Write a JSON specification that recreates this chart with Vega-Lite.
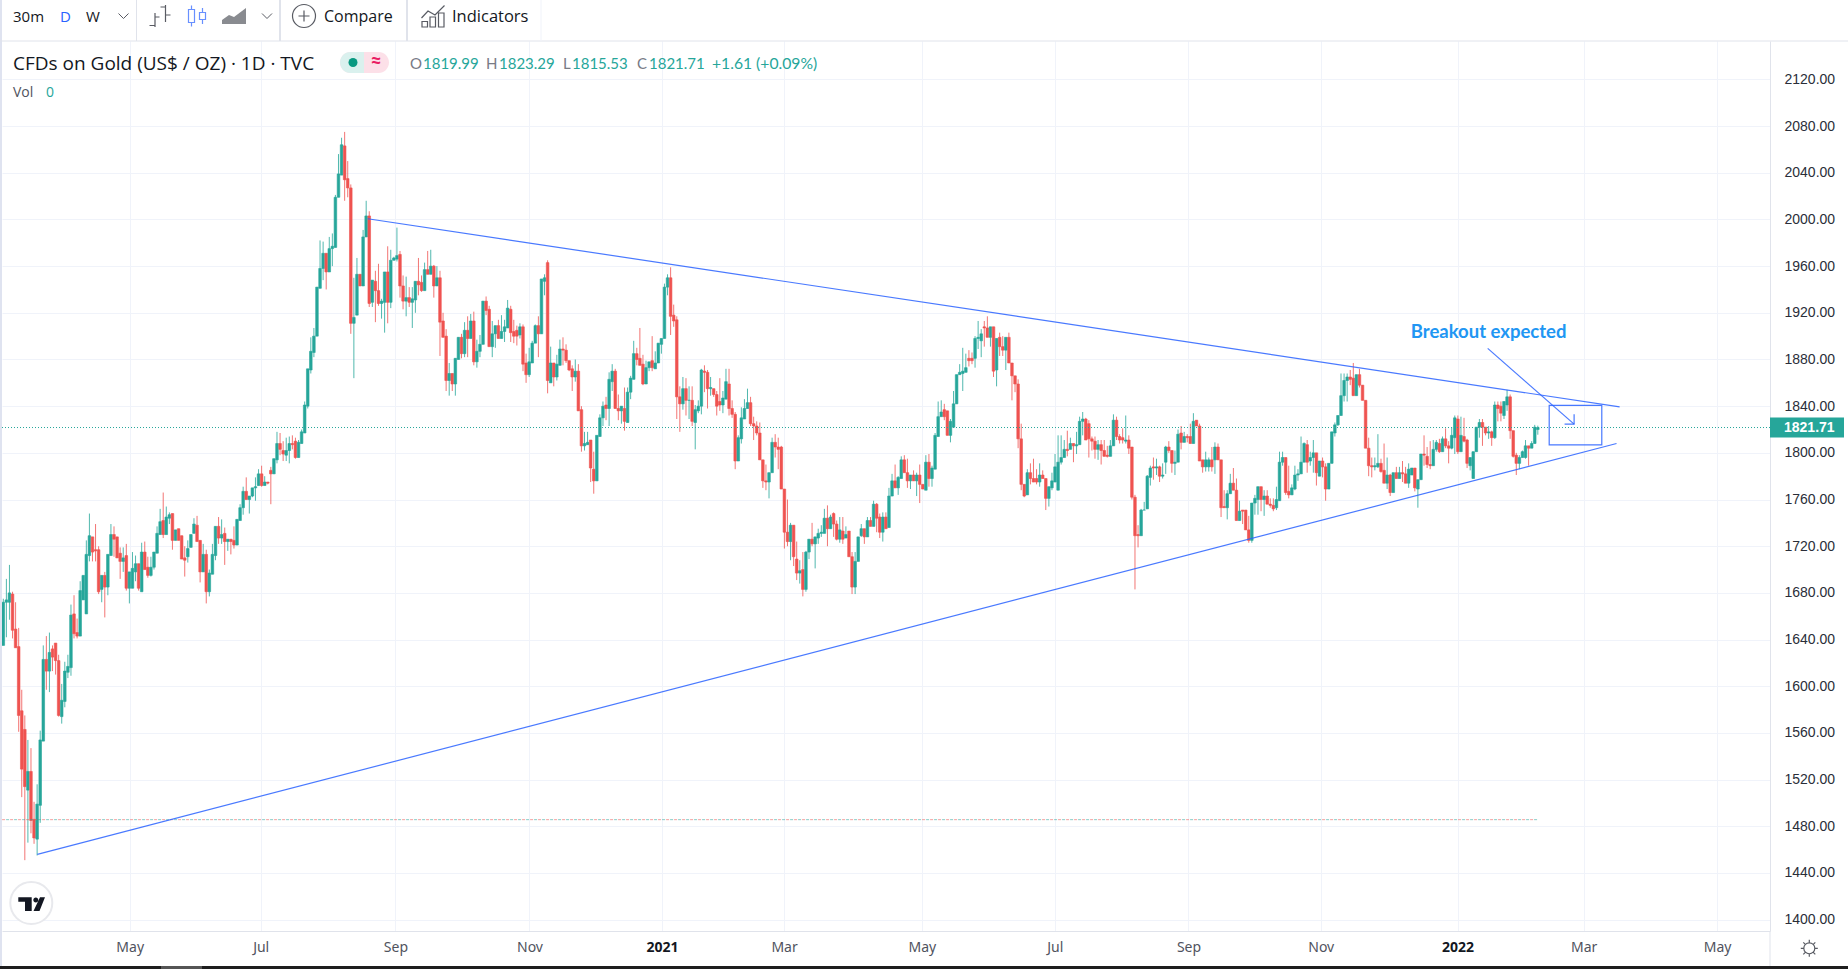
{"$schema":"https://vega.github.io/schema/vega-lite/v6.json","width":1768,"height":890,"padding":{"left":2,"top":41,"right":78,"bottom":38},"autosize":{"type":"none"},"background":"#ffffff","config":{"view":{"stroke":null}},
"datasets":{"bars":[
{"i":0,"o":1635,"h":1675,"l":1635,"c":1672},{"i":1,"o":1672,"h":1692,"l":1642,"c":1674},{"i":2,"o":1672,"h":1704,"l":1657,"c":1680},{"i":3,"o":1679,"h":1681,"l":1641,"c":1648},{"i":4,"o":1649,"h":1672,"l":1633,"c":1633},{"i":5,"o":1634,"h":1650,"l":1561,"c":1575},{"i":6,"o":1579,"h":1597,"l":1505,"c":1529},{"i":7,"o":1563,"h":1575,"l":1451,"c":1514},{"i":8,"o":1511,"h":1554,"l":1466,"c":1527},{"i":9,"o":1527,"h":1547,"l":1474,"c":1485},
{"i":10,"o":1486,"h":1501,"l":1465,"c":1470},{"i":11,"o":1469,"h":1516,"l":1455,"c":1499},{"i":12,"o":1498,"h":1562,"l":1483,"c":1554},{"i":13,"o":1553,"h":1635,"l":1553,"c":1623},{"i":14,"o":1623,"h":1643,"l":1597,"c":1613},{"i":15,"o":1613,"h":1646,"l":1595,"c":1629},{"i":16,"o":1632,"h":1635,"l":1613,"c":1625},{"i":17,"o":1637,"h":1637,"l":1610,"c":1622},{"i":18,"o":1622,"h":1627,"l":1574,"c":1575},{"i":19,"o":1574,"h":1602,"l":1568,"c":1588},
{"i":20,"o":1587,"h":1621,"l":1582,"c":1613},{"i":21,"o":1612,"h":1627,"l":1607,"c":1617},{"i":22,"o":1616,"h":1670,"l":1609,"c":1661},{"i":23,"o":1662,"h":1678,"l":1641,"c":1645},{"i":24,"o":1646,"h":1658,"l":1641,"c":1643},{"i":25,"o":1643,"h":1690,"l":1643,"c":1682},{"i":26,"o":1674,"h":1695,"l":1674,"c":1695},{"i":27,"o":1662,"h":1725,"l":1662,"c":1713},{"i":28,"o":1712,"h":1748,"l":1707,"c":1729},{"i":29,"o":1728,"h":1728,"l":1707,"c":1715},
{"i":30,"o":1717,"h":1739,"l":1707,"c":1716},{"i":31,"o":1717,"h":1720,"l":1679,"c":1681},{"i":32,"o":1683,"h":1695,"l":1672,"c":1695},{"i":33,"o":1695,"h":1698,"l":1659,"c":1685},{"i":34,"o":1685,"h":1713,"l":1678,"c":1713},{"i":35,"o":1712,"h":1739,"l":1712,"c":1730},{"i":36,"o":1730,"h":1737,"l":1711,"c":1726},{"i":37,"o":1728,"h":1728,"l":1710,"c":1710},{"i":38,"o":1714,"h":1719,"l":1692,"c":1707},{"i":39,"o":1707,"h":1719,"l":1698,"c":1710},
{"i":40,"o":1712,"h":1722,"l":1682,"c":1684},{"i":41,"o":1684,"h":1698,"l":1671,"c":1698},{"i":42,"o":1684,"h":1715,"l":1684,"c":1701},{"i":43,"o":1698,"h":1712,"l":1690,"c":1705},{"i":44,"o":1705,"h":1705,"l":1682,"c":1684},{"i":45,"o":1681,"h":1723,"l":1681,"c":1715},{"i":46,"o":1715,"h":1724,"l":1700,"c":1700},{"i":47,"o":1702,"h":1711,"l":1693,"c":1695},{"i":48,"o":1695,"h":1711,"l":1694,"c":1702},{"i":49,"o":1702,"h":1715,"l":1700,"c":1715},
{"i":50,"o":1714,"h":1737,"l":1714,"c":1731},{"i":51,"o":1730,"h":1752,"l":1730,"c":1741},{"i":52,"o":1742,"h":1766,"l":1727,"c":1730},{"i":53,"o":1730,"h":1754,"l":1730,"c":1745},{"i":54,"o":1744,"h":1749,"l":1739,"c":1747},{"i":55,"o":1748,"h":1748,"l":1717,"c":1725},{"i":56,"o":1725,"h":1734,"l":1725,"c":1734},{"i":57,"o":1735,"h":1735,"l":1725,"c":1725},{"i":58,"o":1729,"h":1729,"l":1709,"c":1709},{"i":59,"o":1710,"h":1720,"l":1694,"c":1708},
{"i":60,"o":1711,"h":1725,"l":1706,"c":1718},{"i":61,"o":1719,"h":1730,"l":1719,"c":1730},{"i":62,"o":1731,"h":1744,"l":1731,"c":1739},{"i":63,"o":1738,"h":1746,"l":1724,"c":1724},{"i":64,"o":1725,"h":1725,"l":1689,"c":1698},{"i":65,"o":1698,"h":1722,"l":1698,"c":1713},{"i":66,"o":1713,"h":1717,"l":1671,"c":1681},{"i":67,"o":1681,"h":1700,"l":1677,"c":1697},{"i":68,"o":1696,"h":1722,"l":1696,"c":1713},{"i":69,"o":1712,"h":1737,"l":1708,"c":1737},
{"i":70,"o":1737,"h":1745,"l":1722,"c":1727},{"i":71,"o":1727,"h":1743,"l":1722,"c":1730},{"i":72,"o":1731,"h":1736,"l":1704,"c":1724},{"i":73,"o":1724,"h":1726,"l":1716,"c":1726},{"i":74,"o":1726,"h":1726,"l":1713,"c":1724},{"i":75,"o":1725,"h":1737,"l":1718,"c":1721},{"i":76,"o":1721,"h":1743,"l":1721,"c":1743},{"i":77,"o":1742,"h":1756,"l":1742,"c":1753},{"i":78,"o":1753,"h":1771,"l":1747,"c":1767},{"i":79,"o":1767,"h":1779,"l":1760,"c":1760},
{"i":80,"o":1760,"h":1763,"l":1748,"c":1763},{"i":81,"o":1763,"h":1770,"l":1762,"c":1770},{"i":82,"o":1770,"h":1779,"l":1759,"c":1771},{"i":83,"o":1772,"h":1786,"l":1772,"c":1782},{"i":84,"o":1782,"h":1789,"l":1771,"c":1772},{"i":85,"o":1772,"h":1780,"l":1772,"c":1775},{"i":86,"o":1775,"h":1775,"l":1773,"c":1774},{"i":87,"o":1785,"h":1788,"l":1756,"c":1782},{"i":88,"o":1782,"h":1795,"l":1782,"c":1795},{"i":89,"o":1794,"h":1818,"l":1791,"c":1808},
{"i":90,"o":1808,"h":1817,"l":1798,"c":1803},{"i":91,"o":1802,"h":1810,"l":1793,"c":1799},{"i":92,"o":1798,"h":1813,"l":1793,"c":1802},{"i":93,"o":1802,"h":1814,"l":1791,"c":1808},{"i":94,"o":1808,"h":1815,"l":1803,"c":1807},{"i":95,"o":1810,"h":1813,"l":1795,"c":1796},{"i":96,"o":1796,"h":1811,"l":1796,"c":1809},{"i":97,"o":1808,"h":1820,"l":1808,"c":1818},{"i":98,"o":1817,"h":1844,"l":1817,"c":1841},{"i":99,"o":1840,"h":1872,"l":1838,"c":1872},
{"i":100,"o":1871,"h":1899,"l":1868,"c":1887},{"i":101,"o":1886,"h":1907,"l":1882,"c":1900},{"i":102,"o":1900,"h":1942,"l":1900,"c":1942},{"i":103,"o":1941,"h":1982,"l":1941,"c":1958},{"i":104,"o":1958,"h":1981,"l":1948,"c":1971},{"i":105,"o":1971,"h":1971,"l":1940,"c":1955},{"i":106,"o":1955,"h":1985,"l":1955,"c":1975},{"i":107,"o":1975,"h":1988,"l":1960,"c":1977},{"i":108,"o":1976,"h":2021,"l":1976,"c":2019},{"i":109,"o":2019,"h":2056,"l":2019,"c":2039},
{"i":110,"o":2038,"h":2070,"l":2038,"c":2064},{"i":111,"o":2063,"h":2075,"l":2016,"c":2034},{"i":112,"o":2035,"h":2050,"l":2019,"c":2027},{"i":113,"o":2027,"h":2030,"l":1902,"c":1911},{"i":114,"o":1911,"h":1950,"l":1864,"c":1916},{"i":115,"o":1918,"h":1967,"l":1918,"c":1953},{"i":116,"o":1953,"h":1953,"l":1943,"c":1943},{"i":117,"o":1943,"h":1991,"l":1943,"c":1985},{"i":118,"o":1985,"h":2016,"l":1985,"c":2003},{"i":119,"o":2003,"h":2007,"l":1925,"c":1928},
{"i":120,"o":1929,"h":1948,"l":1925,"c":1948},{"i":121,"o":1947,"h":1956,"l":1912,"c":1939},{"i":122,"o":1939,"h":1962,"l":1926,"c":1928},{"i":123,"o":1928,"h":1932,"l":1915,"c":1930},{"i":124,"o":1929,"h":1955,"l":1903,"c":1955},{"i":125,"o":1955,"h":1977,"l":1911,"c":1929},{"i":126,"o":1929,"h":1974,"l":1924,"c":1965},{"i":127,"o":1965,"h":1968,"l":1965,"c":1967},{"i":128,"o":1966,"h":1993,"l":1964,"c":1969},{"i":129,"o":1970,"h":1973,"l":1933,"c":1943},
{"i":130,"o":1943,"h":1952,"l":1923,"c":1930},{"i":131,"o":1930,"h":1951,"l":1917,"c":1933},{"i":132,"o":1933,"h":1942,"l":1925,"c":1929},{"i":133,"o":1929,"h":1942,"l":1907,"c":1932},{"i":134,"o":1931,"h":1947,"l":1920,"c":1947},{"i":135,"o":1947,"h":1967,"l":1935,"c":1944},{"i":136,"o":1946,"h":1952,"l":1938,"c":1939},{"i":137,"o":1939,"h":1963,"l":1939,"c":1957},{"i":138,"o":1957,"h":1973,"l":1953,"c":1953},{"i":139,"o":1953,"h":1974,"l":1953,"c":1960},
{"i":140,"o":1960,"h":1961,"l":1933,"c":1943},{"i":141,"o":1943,"h":1960,"l":1943,"c":1950},{"i":142,"o":1950,"h":1956,"l":1883,"c":1912},{"i":143,"o":1913,"h":1920,"l":1899,"c":1899},{"i":144,"o":1900,"h":1906,"l":1853,"c":1862},{"i":145,"o":1862,"h":1877,"l":1849,"c":1868},{"i":146,"o":1868,"h":1868,"l":1853,"c":1859},{"i":147,"o":1859,"h":1881,"l":1849,"c":1881},{"i":148,"o":1880,"h":1899,"l":1880,"c":1899},{"i":149,"o":1899,"h":1902,"l":1881,"c":1885},
{"i":150,"o":1885,"h":1912,"l":1882,"c":1905},{"i":151,"o":1905,"h":1917,"l":1882,"c":1898},{"i":152,"o":1898,"h":1919,"l":1898,"c":1913},{"i":153,"o":1913,"h":1921,"l":1875,"c":1878},{"i":154,"o":1878,"h":1897,"l":1873,"c":1887},{"i":155,"o":1887,"h":1901,"l":1882,"c":1893},{"i":156,"o":1893,"h":1930,"l":1893,"c":1930},{"i":157,"o":1930,"h":1934,"l":1918,"c":1922},{"i":158,"o":1923,"h":1926,"l":1891,"c":1891},{"i":159,"o":1891,"h":1913,"l":1882,"c":1902},
{"i":160,"o":1902,"h":1909,"l":1890,"c":1909},{"i":161,"o":1909,"h":1914,"l":1898,"c":1898},{"i":162,"o":1898,"h":1918,"l":1898,"c":1904},{"i":163,"o":1904,"h":1914,"l":1895,"c":1908},{"i":164,"o":1907,"h":1931,"l":1907,"c":1924},{"i":165,"o":1923,"h":1926,"l":1895,"c":1903},{"i":166,"o":1904,"h":1914,"l":1894,"c":1900},{"i":167,"o":1905,"h":1909,"l":1892,"c":1900},{"i":168,"o":1901,"h":1911,"l":1898,"c":1908},{"i":169,"o":1908,"h":1910,"l":1870,"c":1876},
{"i":170,"o":1877,"h":1885,"l":1860,"c":1867},{"i":171,"o":1867,"h":1890,"l":1865,"c":1878},{"i":172,"o":1877,"h":1896,"l":1877,"c":1894},{"i":173,"o":1894,"h":1910,"l":1894,"c":1909},{"i":174,"o":1909,"h":1917,"l":1882,"c":1902},{"i":175,"o":1902,"h":1949,"l":1902,"c":1949},{"i":176,"o":1947,"h":1953,"l":1935,"c":1950},{"i":177,"o":1963,"h":1965,"l":1851,"c":1862},{"i":178,"o":1860,"h":1891,"l":1860,"c":1877},{"i":179,"o":1877,"h":1877,"l":1857,"c":1865},
{"i":180,"o":1865,"h":1884,"l":1862,"c":1876},{"i":181,"o":1875,"h":1897,"l":1875,"c":1889},{"i":182,"o":1889,"h":1899,"l":1875,"c":1888},{"i":183,"o":1888,"h":1893,"l":1877,"c":1879},{"i":184,"o":1879,"h":1879,"l":1870,"c":1871},{"i":185,"o":1872,"h":1875,"l":1853,"c":1865},{"i":186,"o":1865,"h":1880,"l":1861,"c":1870},{"i":187,"o":1870,"h":1876,"l":1836,"c":1836},{"i":188,"o":1837,"h":1840,"l":1801,"c":1806},{"i":189,"o":1806,"h":1818,"l":1802,"c":1808},
{"i":190,"o":1807,"h":1818,"l":1807,"c":1809},{"i":191,"o":1811,"h":1811,"l":1775,"c":1787},{"i":192,"o":1786,"h":1801,"l":1765,"c":1776},{"i":193,"o":1776,"h":1815,"l":1776,"c":1815},{"i":194,"o":1814,"h":1833,"l":1814,"c":1830},{"i":195,"o":1830,"h":1844,"l":1823,"c":1840},{"i":196,"o":1841,"h":1848,"l":1828,"c":1838},{"i":197,"o":1838,"h":1869,"l":1823,"c":1863},{"i":198,"o":1861,"h":1876,"l":1853,"c":1870},{"i":199,"o":1870,"h":1872,"l":1838,"c":1838},
{"i":200,"o":1838,"h":1850,"l":1828,"c":1836},{"i":201,"o":1836,"h":1840,"l":1825,"c":1840},{"i":202,"o":1838,"h":1856,"l":1819,"c":1827},{"i":203,"o":1826,"h":1856,"l":1826,"c":1852},{"i":204,"o":1852,"h":1866,"l":1846,"c":1864},{"i":205,"o":1863,"h":1896,"l":1863,"c":1885},{"i":206,"o":1885,"h":1890,"l":1875,"c":1880},{"i":207,"o":1881,"h":1907,"l":1875,"c":1875},{"i":208,"o":1876,"h":1884,"l":1858,"c":1859},{"i":209,"o":1859,"h":1879,"l":1859,"c":1873},
{"i":210,"o":1873,"h":1878,"l":1870,"c":1878},{"i":211,"o":1879,"h":1900,"l":1870,"c":1873},{"i":212,"o":1872,"h":1887,"l":1872,"c":1877},{"i":213,"o":1877,"h":1894,"l":1877,"c":1894},{"i":214,"o":1893,"h":1898,"l":1885,"c":1898},{"i":215,"o":1898,"h":1945,"l":1898,"c":1942},{"i":216,"o":1942,"h":1953,"l":1935,"c":1950},{"i":217,"o":1950,"h":1959,"l":1901,"c":1917},{"i":218,"o":1918,"h":1927,"l":1908,"c":1913},{"i":219,"o":1914,"h":1917,"l":1829,"c":1848},
{"i":220,"o":1848,"h":1857,"l":1818,"c":1842},{"i":221,"o":1842,"h":1865,"l":1837,"c":1855},{"i":222,"o":1855,"h":1864,"l":1832,"c":1845},{"i":223,"o":1845,"h":1857,"l":1829,"c":1845},{"i":224,"o":1845,"h":1857,"l":1823,"c":1827},{"i":225,"o":1826,"h":1841,"l":1803,"c":1837},{"i":226,"o":1836,"h":1845,"l":1834,"c":1840},{"i":227,"o":1840,"h":1872,"l":1833,"c":1871},{"i":228,"o":1870,"h":1875,"l":1852,"c":1869},{"i":229,"o":1869,"h":1871,"l":1838,"c":1855},
{"i":230,"o":1855,"h":1865,"l":1849,"c":1856},{"i":231,"o":1855,"h":1855,"l":1848,"c":1850},{"i":232,"o":1850,"h":1853,"l":1832,"c":1840},{"i":233,"o":1844,"h":1864,"l":1836,"c":1841},{"i":234,"o":1841,"h":1853,"l":1834,"c":1847},{"i":235,"o":1846,"h":1872,"l":1846,"c":1861},{"i":236,"o":1859,"h":1872,"l":1832,"c":1838},{"i":237,"o":1838,"h":1845,"l":1830,"c":1833},{"i":238,"o":1833,"h":1835,"l":1786,"c":1793},{"i":239,"o":1793,"h":1815,"l":1793,"c":1813},
{"i":240,"o":1812,"h":1839,"l":1808,"c":1830},{"i":241,"o":1829,"h":1846,"l":1829,"c":1838},{"i":242,"o":1838,"h":1855,"l":1838,"c":1843},{"i":243,"o":1843,"h":1848,"l":1823,"c":1825},{"i":244,"o":1825,"h":1831,"l":1811,"c":1823},{"i":245,"o":1823,"h":1827,"l":1815,"c":1817},{"i":246,"o":1817,"h":1826,"l":1794,"c":1794},{"i":247,"o":1794,"h":1794,"l":1770,"c":1776},{"i":248,"o":1776,"h":1790,"l":1768,"c":1775},{"i":249,"o":1775,"h":1783,"l":1761,"c":1783},
{"i":250,"o":1783,"h":1813,"l":1783,"c":1809},{"i":251,"o":1809,"h":1816,"l":1796,"c":1805},{"i":252,"o":1805,"h":1813,"l":1786,"c":1803},{"i":253,"o":1805,"h":1806,"l":1769,"c":1769},{"i":254,"o":1769,"h":1769,"l":1718,"c":1732},{"i":255,"o":1732,"h":1760,"l":1720,"c":1724},{"i":256,"o":1724,"h":1740,"l":1708,"c":1738},{"i":257,"o":1738,"h":1738,"l":1703,"c":1711},{"i":258,"o":1709,"h":1724,"l":1691,"c":1697},{"i":259,"o":1697,"h":1708,"l":1688,"c":1699},
{"i":260,"o":1700,"h":1715,"l":1677,"c":1683},{"i":261,"o":1683,"h":1716,"l":1681,"c":1715},{"i":262,"o":1715,"h":1726,"l":1709,"c":1726},{"i":263,"o":1726,"h":1740,"l":1720,"c":1722},{"i":264,"o":1722,"h":1728,"l":1701,"c":1728},{"i":265,"o":1727,"h":1735,"l":1722,"c":1731},{"i":266,"o":1731,"h":1738,"l":1728,"c":1732},{"i":267,"o":1731,"h":1752,"l":1731,"c":1744},{"i":268,"o":1744,"h":1755,"l":1720,"c":1735},{"i":269,"o":1735,"h":1747,"l":1735,"c":1745},
{"i":270,"o":1748,"h":1749,"l":1728,"c":1739},{"i":271,"o":1739,"h":1742,"l":1725,"c":1726},{"i":272,"o":1726,"h":1745,"l":1723,"c":1734},{"i":273,"o":1733,"h":1745,"l":1722,"c":1726},{"i":274,"o":1727,"h":1737,"l":1727,"c":1730},{"i":275,"o":1733,"h":1733,"l":1711,"c":1711},{"i":276,"o":1711,"h":1715,"l":1679,"c":1685},{"i":277,"o":1685,"h":1715,"l":1679,"c":1707},{"i":278,"o":1707,"h":1728,"l":1707,"c":1728},{"i":279,"o":1729,"h":1739,"l":1728,"c":1735},
{"i":280,"o":1735,"h":1735,"l":1722,"c":1728},{"i":281,"o":1728,"h":1745,"l":1728,"c":1742},{"i":282,"o":1742,"h":1745,"l":1737,"c":1737},{"i":283,"o":1737,"h":1759,"l":1737,"c":1756},{"i":284,"o":1756,"h":1757,"l":1732,"c":1744},{"i":285,"o":1745,"h":1748,"l":1727,"c":1732},{"i":286,"o":1732,"h":1749,"l":1724,"c":1745},{"i":287,"o":1745,"h":1749,"l":1735,"c":1735},{"i":288,"o":1736,"h":1770,"l":1736,"c":1763},{"i":289,"o":1763,"h":1782,"l":1763,"c":1776},
{"i":290,"o":1776,"h":1790,"l":1770,"c":1770},{"i":291,"o":1770,"h":1780,"l":1764,"c":1779},{"i":292,"o":1778,"h":1797,"l":1778,"c":1794},{"i":293,"o":1794,"h":1798,"l":1783,"c":1783},{"i":294,"o":1783,"h":1795,"l":1770,"c":1776},{"i":295,"o":1776,"h":1781,"l":1769,"c":1781},{"i":296,"o":1781,"h":1785,"l":1776,"c":1776},{"i":297,"o":1776,"h":1783,"l":1763,"c":1781},{"i":298,"o":1781,"h":1790,"l":1757,"c":1773},{"i":299,"o":1773,"h":1773,"l":1769,"c":1769},
{"i":300,"o":1768,"h":1798,"l":1768,"c":1792},{"i":301,"o":1792,"h":1799,"l":1771,"c":1778},{"i":302,"o":1778,"h":1789,"l":1771,"c":1787},{"i":303,"o":1786,"h":1817,"l":1786,"c":1815},{"i":304,"o":1814,"h":1844,"l":1814,"c":1831},{"i":305,"o":1831,"h":1845,"l":1831,"c":1835},{"i":306,"o":1837,"h":1842,"l":1828,"c":1831},{"i":307,"o":1836,"h":1836,"l":1815,"c":1815},{"i":308,"o":1815,"h":1829,"l":1809,"c":1827},{"i":309,"o":1822,"h":1853,"l":1822,"c":1842},
{"i":310,"o":1842,"h":1867,"l":1842,"c":1867},{"i":311,"o":1867,"h":1876,"l":1867,"c":1869},{"i":312,"o":1868,"h":1890,"l":1853,"c":1870},{"i":313,"o":1869,"h":1885,"l":1869,"c":1873},{"i":314,"o":1881,"h":1888,"l":1874,"c":1879},{"i":315,"o":1881,"h":1886,"l":1876,"c":1879},{"i":316,"o":1881,"h":1900,"l":1873,"c":1898},{"i":317,"o":1898,"h":1913,"l":1889,"c":1899},{"i":318,"o":1896,"h":1906,"l":1882,"c":1902},{"i":319,"o":1908,"h":1913,"l":1891,"c":1907},
{"i":320,"o":1907,"h":1917,"l":1899,"c":1899},{"i":321,"o":1899,"h":1908,"l":1891,"c":1908},{"i":322,"o":1908,"h":1908,"l":1865,"c":1870},{"i":323,"o":1871,"h":1898,"l":1857,"c":1898},{"i":324,"o":1899,"h":1903,"l":1883,"c":1891},{"i":325,"o":1891,"h":1900,"l":1883,"c":1888},{"i":326,"o":1888,"h":1899,"l":1871,"c":1899},{"i":327,"o":1899,"h":1903,"l":1877,"c":1877},{"i":328,"o":1877,"h":1877,"l":1845,"c":1866},{"i":329,"o":1866,"h":1866,"l":1852,"c":1859},
{"i":330,"o":1859,"h":1863,"l":1804,"c":1812},{"i":331,"o":1812,"h":1825,"l":1768,"c":1773},{"i":332,"o":1773,"h":1773,"l":1762,"c":1763},{"i":333,"o":1764,"h":1786,"l":1764,"c":1783},{"i":334,"o":1783,"h":1791,"l":1773,"c":1778},{"i":335,"o":1778,"h":1795,"l":1775,"c":1775},{"i":336,"o":1778,"h":1786,"l":1773,"c":1775},{"i":337,"o":1775,"h":1791,"l":1771,"c":1781},{"i":338,"o":1781,"h":1785,"l":1778,"c":1778},{"i":339,"o":1778,"h":1778,"l":1751,"c":1761},
{"i":340,"o":1761,"h":1771,"l":1754,"c":1771},{"i":341,"o":1770,"h":1783,"l":1768,"c":1776},{"i":342,"o":1775,"h":1799,"l":1775,"c":1788},{"i":343,"o":1768,"h":1815,"l":1768,"c":1792},{"i":344,"o":1792,"h":1815,"l":1790,"c":1796},{"i":345,"o":1796,"h":1811,"l":1796,"c":1803},{"i":346,"o":1803,"h":1819,"l":1797,"c":1802},{"i":347,"o":1803,"h":1813,"l":1803,"c":1808},{"i":348,"o":1808,"h":1808,"l":1792,"c":1806},{"i":349,"o":1806,"h":1818,"l":1799,"c":1807},
{"i":350,"o":1807,"h":1831,"l":1807,"c":1827},{"i":351,"o":1827,"h":1835,"l":1815,"c":1829},{"i":352,"o":1829,"h":1830,"l":1811,"c":1811},{"i":353,"o":1825,"h":1828,"l":1796,"c":1812},{"i":354,"o":1812,"h":1814,"l":1802,"c":1810},{"i":355,"o":1810,"h":1814,"l":1795,"c":1803},{"i":356,"o":1803,"h":1811,"l":1794,"c":1807},{"i":357,"o":1807,"h":1811,"l":1790,"c":1802},{"i":358,"o":1802,"h":1811,"l":1797,"c":1797},{"i":359,"o":1798,"h":1806,"l":1796,"c":1797},
{"i":360,"o":1797,"h":1811,"l":1797,"c":1806},{"i":361,"o":1806,"h":1833,"l":1806,"c":1828},{"i":362,"o":1828,"h":1831,"l":1811,"c":1814},{"i":363,"o":1814,"h":1816,"l":1808,"c":1811},{"i":364,"o":1813,"h":1821,"l":1808,"c":1811},{"i":365,"o":1810,"h":1832,"l":1808,"c":1811},{"i":366,"o":1811,"h":1815,"l":1799,"c":1804},{"i":367,"o":1805,"h":1805,"l":1760,"c":1762},{"i":368,"o":1762,"h":1764,"l":1683,"c":1729},{"i":369,"o":1730,"h":1738,"l":1719,"c":1729},
{"i":370,"o":1729,"h":1752,"l":1729,"c":1751},{"i":371,"o":1751,"h":1758,"l":1751,"c":1751},{"i":372,"o":1752,"h":1781,"l":1752,"c":1780},{"i":373,"o":1779,"h":1789,"l":1772,"c":1787},{"i":374,"o":1788,"h":1796,"l":1777,"c":1787},{"i":375,"o":1787,"h":1795,"l":1781,"c":1788},{"i":376,"o":1788,"h":1789,"l":1775,"c":1780},{"i":377,"o":1780,"h":1791,"l":1778,"c":1781},{"i":378,"o":1792,"h":1806,"l":1782,"c":1805},{"i":379,"o":1805,"h":1810,"l":1800,"c":1802},
{"i":380,"o":1802,"h":1802,"l":1783,"c":1791},{"i":381,"o":1791,"h":1802,"l":1781,"c":1792},{"i":382,"o":1792,"h":1820,"l":1792,"c":1816},{"i":383,"o":1817,"h":1823,"l":1803,"c":1809},{"i":384,"o":1809,"h":1818,"l":1809,"c":1814},{"i":385,"o":1814,"h":1816,"l":1809,"c":1813},{"i":386,"o":1814,"h":1825,"l":1808,"c":1808},{"i":387,"o":1808,"h":1834,"l":1808,"c":1827},{"i":388,"o":1828,"h":1828,"l":1823,"c":1823},{"i":389,"o":1823,"h":1825,"l":1793,"c":1793},
{"i":390,"o":1794,"h":1794,"l":1783,"c":1788},{"i":391,"o":1788,"h":1801,"l":1784,"c":1794},{"i":392,"o":1788,"h":1796,"l":1784,"c":1794},{"i":393,"o":1794,"h":1805,"l":1784,"c":1788},{"i":394,"o":1794,"h":1809,"l":1782,"c":1805},{"i":395,"o":1805,"h":1808,"l":1794,"c":1794},{"i":396,"o":1794,"h":1794,"l":1745,"c":1753},{"i":397,"o":1754,"h":1768,"l":1753,"c":1753},{"i":398,"o":1753,"h":1768,"l":1743,"c":1765},{"i":399,"o":1765,"h":1782,"l":1765,"c":1774},
{"i":400,"o":1774,"h":1787,"l":1768,"c":1768},{"i":401,"o":1768,"h":1778,"l":1742,"c":1742},{"i":402,"o":1742,"h":1759,"l":1742,"c":1750},{"i":403,"o":1751,"h":1751,"l":1739,"c":1750},{"i":404,"o":1751,"h":1751,"l":1734,"c":1734},{"i":405,"o":1734,"h":1746,"l":1723,"c":1725},{"i":406,"o":1725,"h":1757,"l":1723,"c":1757},{"i":407,"o":1757,"h":1764,"l":1747,"c":1761},{"i":408,"o":1760,"h":1771,"l":1747,"c":1771},{"i":409,"o":1771,"h":1771,"l":1750,"c":1760},
{"i":410,"o":1760,"h":1768,"l":1746,"c":1763},{"i":411,"o":1763,"h":1768,"l":1756,"c":1756},{"i":412,"o":1756,"h":1761,"l":1753,"c":1755},{"i":413,"o":1755,"h":1761,"l":1750,"c":1752},{"i":414,"o":1753,"h":1771,"l":1751,"c":1760},{"i":415,"o":1759,"h":1801,"l":1759,"c":1792},{"i":416,"o":1792,"h":1801,"l":1789,"c":1796},{"i":417,"o":1796,"h":1796,"l":1764,"c":1766},{"i":418,"o":1767,"h":1789,"l":1761,"c":1764},{"i":419,"o":1764,"h":1773,"l":1764,"c":1770},
{"i":420,"o":1769,"h":1789,"l":1768,"c":1781},{"i":421,"o":1781,"h":1786,"l":1776,"c":1782},{"i":422,"o":1782,"h":1814,"l":1782,"c":1792},{"i":423,"o":1792,"h":1809,"l":1792,"c":1808},{"i":424,"o":1807,"h":1811,"l":1783,"c":1792},{"i":425,"o":1793,"h":1801,"l":1789,"c":1796},{"i":426,"o":1796,"h":1811,"l":1783,"c":1800},{"i":427,"o":1800,"h":1800,"l":1772,"c":1783},{"i":428,"o":1780,"h":1793,"l":1780,"c":1793},{"i":429,"o":1793,"h":1796,"l":1779,"c":1788},
{"i":430,"o":1788,"h":1791,"l":1759,"c":1769},{"i":431,"o":1769,"h":1791,"l":1769,"c":1791},{"i":432,"o":1791,"h":1818,"l":1791,"c":1818},{"i":433,"o":1817,"h":1826,"l":1814,"c":1824},{"i":434,"o":1824,"h":1832,"l":1823,"c":1832},{"i":435,"o":1832,"h":1868,"l":1832,"c":1849},{"i":436,"o":1849,"h":1868,"l":1844,"c":1862},{"i":437,"o":1862,"h":1868,"l":1844,"c":1865},{"i":438,"o":1865,"h":1871,"l":1858,"c":1863},{"i":439,"o":1864,"h":1877,"l":1849,"c":1849},
{"i":440,"o":1849,"h":1867,"l":1849,"c":1867},{"i":441,"o":1867,"h":1872,"l":1856,"c":1858},{"i":442,"o":1858,"h":1858,"l":1845,"c":1845},{"i":443,"o":1845,"h":1845,"l":1804,"c":1804},{"i":444,"o":1804,"h":1813,"l":1780,"c":1789},{"i":445,"o":1789,"h":1796,"l":1779,"c":1788},{"i":446,"o":1788,"h":1796,"l":1785,"c":1789},{"i":447,"o":1788,"h":1816,"l":1787,"c":1791},{"i":448,"o":1791,"h":1795,"l":1783,"c":1784},{"i":449,"o":1785,"h":1808,"l":1774,"c":1774},
{"i":450,"o":1774,"h":1796,"l":1769,"c":1781},{"i":451,"o":1781,"h":1782,"l":1763,"c":1766},{"i":452,"o":1766,"h":1783,"l":1766,"c":1783},{"i":453,"o":1783,"h":1788,"l":1778,"c":1778},{"i":454,"o":1778,"h":1788,"l":1778,"c":1783},{"i":455,"o":1783,"h":1793,"l":1775,"c":1782},{"i":456,"o":1782,"h":1788,"l":1774,"c":1774},{"i":457,"o":1774,"h":1791,"l":1770,"c":1786},{"i":458,"o":1781,"h":1787,"l":1781,"c":1787},{"i":459,"o":1787,"h":1787,"l":1767,"c":1770},
{"i":460,"o":1769,"h":1777,"l":1753,"c":1777},{"i":461,"o":1777,"h":1799,"l":1777,"c":1799},{"i":462,"o":1799,"h":1815,"l":1789,"c":1798},{"i":463,"o":1797,"h":1805,"l":1787,"c":1790},{"i":464,"o":1790,"h":1810,"l":1786,"c":1789},{"i":465,"o":1789,"h":1811,"l":1789,"c":1803},{"i":466,"o":1803,"h":1811,"l":1801,"c":1809},{"i":467,"o":1808,"h":1812,"l":1800,"c":1801},{"i":468,"o":1801,"h":1814,"l":1801,"c":1812},{"i":469,"o":1812,"h":1821,"l":1804,"c":1806},
{"i":470,"o":1806,"h":1810,"l":1791,"c":1804},{"i":471,"o":1804,"h":1822,"l":1803,"c":1815},{"i":472,"o":1813,"h":1832,"l":1799,"c":1830},{"i":473,"o":1829,"h":1832,"l":1799,"c":1801},{"i":474,"o":1801,"h":1831,"l":1801,"c":1815},{"i":475,"o":1814,"h":1830,"l":1809,"c":1810},{"i":476,"o":1811,"h":1812,"l":1787,"c":1791},{"i":477,"o":1789,"h":1796,"l":1785,"c":1796},{"i":478,"o":1778,"h":1801,"l":1778,"c":1801},{"i":479,"o":1801,"h":1822,"l":1801,"c":1822},
{"i":480,"o":1822,"h":1829,"l":1813,"c":1826},{"i":481,"o":1826,"h":1829,"l":1806,"c":1822},{"i":482,"o":1822,"h":1822,"l":1815,"c":1817},{"i":483,"o":1817,"h":1823,"l":1812,"c":1818},{"i":484,"o":1818,"h":1819,"l":1806,"c":1813},{"i":485,"o":1813,"h":1844,"l":1812,"c":1841},{"i":486,"o":1841,"h":1844,"l":1827,"c":1838},{"i":487,"o":1840,"h":1844,"l":1827,"c":1834},{"i":488,"o":1832,"h":1844,"l":1829,"c":1844},{"i":489,"o":1841,"h":1854,"l":1836,"c":1848},
{"i":490,"o":1848,"h":1850,"l":1812,"c":1819},{"i":491,"o":1819,"h":1819,"l":1796,"c":1797},{"i":492,"o":1798,"h":1800,"l":1781,"c":1791},{"i":493,"o":1791,"h":1798,"l":1786,"c":1796},{"i":494,"o":1796,"h":1802,"l":1796,"c":1801},{"i":495,"o":1796,"h":1811,"l":1795,"c":1806},{"i":496,"o":1806,"h":1806,"l":1789,"c":1804},{"i":497,"o":1804,"h":1810,"l":1804,"c":1808},{"i":498,"o":1808,"h":1824,"l":1808,"c":1822},{"i":499,"o":1819.99,"h":1823.29,"l":1815.53,"c":1821.71}
],
"lines":[{"name":"upper","s":0,"i":118.5,"p":2000.6},{"name":"upper","s":1,"i":525.6,"p":1839.4},{"name":"lower","s":0,"i":11.06,"p":1456},{"name":"lower","s":1,"i":524.6,"p":1808},{"name":"shaft","s":0,"i":482.7,"p":1889.5},{"name":"shaft","s":1,"i":510.8,"p":1824.6},{"name":"head","s":0,"i":510.8,"p":1833},{"name":"head","s":1,"i":510.8,"p":1824.6},{"name":"head","s":2,"i":507.7,"p":1824.6}]},
"data":{"name":"bars"},
"layer":[
{"mark":{"type":"rule","strokeWidth":1,"opacity":0.8},"encoding":{
"x":{"field":"i","type":"quantitative","scale":{"domain":[-0.423,574.5],"nice":false,"zero":false,"padding":0},"axis":{"title":null,"orient":"bottom","values":[41.1,83.7,127.5,171.1,214.2,253.9,298.7,341.9,385.4,428.4,472.9,513.9,557.3],"labelExpr":"['May','Jul','Sep','Nov','2021','Mar','May','Jul','Sep','Nov','2022','Mar','May'][indexof([41.1,83.7,127.5,171.1,214.2,253.9,298.7,341.9,385.4,428.4,472.9,513.9,557.3],datum.value)]","labelFont":"Noto Sans","labelFontSize":14,"labelColor":{"condition":{"test":"datum.value==214.2||datum.value==472.9","value":"#131722"},"value":"#50535e"},"labelFontWeight":{"condition":{"test":"datum.value==214.2||datum.value==472.9","value":"bold"},"value":"normal"},"labelPadding":9,"labelFlush":false,"labelOverlap":false,"labelBound":false,"ticks":false,"grid":true,"gridColor":"#f0f3fa","gridWidth":1,"domain":true,"domainColor":"#e0e3eb","domainWidth":1}},
"y":{"field":"l","type":"quantitative","scale":{"domain":[1390.3,2152.9],"nice":false,"zero":false},"axis":{"title":null,"orient":"right","values":[1400,1440,1480,1520,1560,1600,1640,1680,1720,1760,1800,1840,1880,1920,1960,2000,2040,2080,2120],"format":".2f","labelFont":"Liberation Sans","labelFontSize":14,"labelColor":"#2a2e39","labelPadding":14,"labelFlush":false,"labelOverlap":false,"labelBound":false,"ticks":false,"grid":true,"gridColor":"#f0f3fa","gridWidth":1,"domain":true,"domainColor":"#e0e3eb","domainWidth":1}},
"y2":{"field":"h"},
"color":{"condition":{"test":"datum.c>=datum.o","value":"#26a69a"},"value":"#ef5350"}}},
{"mark":{"type":"bar","orient":"vertical","size":2.6,"strokeWidth":0.6},"encoding":{
"x":{"field":"i","type":"quantitative"},
"y":{"field":"o","type":"quantitative"},
"y2":{"field":"c"},
"color":{"condition":{"test":"datum.c>=datum.o","value":"#26a69a"},"value":"#ef5350"},
"stroke":{"condition":{"test":"datum.c>=datum.o","value":"#26a69a"},"value":"#ef5350"}}},
{"data":{"values":[{"p":1821.71,"what":"last close"}]},"mark":{"type":"rule","stroke":"#26a69a","strokeWidth":1,"strokeDash":[1,2]},"encoding":{"y":{"field":"p","type":"quantitative"}}},
{"data":{"values":[{"a":-0.4,"b":499,"p":1485.7}]},"mark":{"type":"rule","stroke":"#ef5350","strokeWidth":1,"strokeDash":[3,5],"opacity":0.55},"encoding":{"x":{"field":"a","type":"quantitative"},"x2":{"field":"b"},"y":{"field":"p","type":"quantitative"}}},
{"data":{"values":[{"a":-0.4,"b":499,"p":1485.7}]},"mark":{"type":"rule","stroke":"#26a69a","strokeWidth":1,"strokeDash":[3,5],"strokeDashOffset":4,"opacity":0.55},"encoding":{"x":{"field":"a","type":"quantitative"},"x2":{"field":"b"},"y":{"field":"p","type":"quantitative"}}},
{"data":{"name":"lines"},"mark":{"type":"line","stroke":"#2962ff","strokeWidth":1.2,"opacity":0.85},"encoding":{"x":{"field":"i","type":"quantitative"},"y":{"field":"p","type":"quantitative"},"detail":{"field":"name"},"order":{"field":"s","type":"ordinal"}}},
{"data":{"values":[{"a":502.7,"b":519.8,"p1":1840.6,"p2":1806.9}]},"mark":{"type":"rect","fillOpacity":0,"stroke":"#2962ff","strokeWidth":1.2,"opacity":0.85},"encoding":{"x":{"field":"a","type":"quantitative"},"x2":{"field":"b"},"y":{"field":"p1","type":"quantitative"},"y2":{"field":"p2"}}},
{"data":{"values":[{"i":483,"p":1903.5,"t":"Breakout expected"}]},"mark":{"type":"text","font":"Lato","fontSize":18.5,"fontWeight":"bold","color":"#2196f3","align":"center","baseline":"middle"},"encoding":{"x":{"field":"i","type":"quantitative"},"y":{"field":"p","type":"quantitative"},"text":{"field":"t"}}},
{"data":{"values":[{"p1":1830.2,"p2":1813.2}]},"mark":{"type":"rect","fill":"#26a69a","clip":false},"encoding":{"x":{"value":1768},"x2":{"value":1842},"y":{"field":"p1","type":"quantitative"},"y2":{"field":"p2"}}},
{"data":{"values":[{"p":1821.71,"t":"1821.71"}]},"mark":{"type":"text","font":"Liberation Sans","fontSize":14,"fontWeight":"bold","color":"#ffffff","align":"left","baseline":"middle"},"encoding":{"x":{"value":1782},"y":{"field":"p","type":"quantitative"},"text":{"field":"t"}}},
{"data":{"values":[{"c":1}]},"mark":{"type":"rect","fill":"#dfe3f0"},"encoding":{"x":{"value":-2},"x2":{"value":0},"y":{"value":-41},"y2":{"value":928}}},
{"data":{"values":[{"c":1}]},"mark":{"type":"rule","stroke":"#e0e3eb"},"encoding":{"x":{"value":-2},"x2":{"value":1846},"y":{"value":0}}},
{"data":{"values":[{"c":1}]},"mark":{"type":"rule","stroke":"#e0e3eb"},"encoding":{"x":{"value":1768},"y":{"value":890},"y2":{"value":925}}},
{"data":{"values":[{"c":1}]},"mark":{"type":"rule","stroke":"#e0e3eb"},"encoding":{"x":{"value":134.5},"y":{"value":-41},"y2":{"value":0}}},
{"data":{"values":[{"c":1}]},"mark":{"type":"rule","stroke":"#e0e3eb","strokeWidth":2},"encoding":{"x":{"value":278},"y":{"value":-41},"y2":{"value":0}}},
{"data":{"values":[{"c":1}]},"mark":{"type":"rule","stroke":"#e0e3eb","strokeWidth":2},"encoding":{"x":{"value":405},"y":{"value":-41},"y2":{"value":0}}},
{"data":{"values":[{"c":1}]},"mark":{"type":"rule","stroke":"#f0f3fa"},"encoding":{"x":{"value":539},"y":{"value":-41},"y2":{"value":0}}},
{"data":{"values":[{"c":1}]},"mark":{"type":"rect","fill":"#1e1e1e"},"encoding":{"x":{"value":-2},"x2":{"value":1846},"y":{"value":925},"y2":{"value":928}}},
{"data":{"values":[{"c":1}]},"mark":{"type":"rect","fill":"#555555"},"encoding":{"x":{"value":159},"x2":{"value":200},"y":{"value":925},"y2":{"value":928}}},
{"data":{"values":[{"t":"30m"}]},"mark":{"type":"text","font":"Open Sans","fontSize":15,"color":"#131722","align":"left","baseline":"middle"},"encoding":{"x":{"value":11},"y":{"value":-24},"text":{"field":"t"}}},
{"data":{"values":[{"t":"D"}]},"mark":{"type":"text","font":"Open Sans","fontSize":15,"color":"#2962ff","align":"left","baseline":"middle"},"encoding":{"x":{"value":58},"y":{"value":-24},"text":{"field":"t"}}},
{"data":{"values":[{"t":"W"}]},"mark":{"type":"text","font":"Open Sans","fontSize":15,"color":"#131722","align":"left","baseline":"middle"},"encoding":{"x":{"value":84},"y":{"value":-24},"text":{"field":"t"}}},
{"data":{"values":[{"t":"Compare"}]},"mark":{"type":"text","font":"Open Sans","fontSize":16,"color":"#131722","align":"left","baseline":"middle"},"encoding":{"x":{"value":322},"y":{"value":-24},"text":{"field":"t"}}},
{"data":{"values":[{"t":"Indicators"}]},"mark":{"type":"text","font":"Open Sans","fontSize":16.5,"color":"#131722","align":"left","baseline":"middle"},"encoding":{"x":{"value":450},"y":{"value":-24},"text":{"field":"t"}}},
{"data":{"values":[{"n":"chevron1"}]},"mark":{"type":"point","size":400,"filled":false,"stroke":"#131722","strokeWidth":1,"shape":"M-0.5,-0.25 L0,0.25 L0.5,-0.25"},"encoding":{"x":{"value":121.5},"y":{"value":-25}}},
{"data":{"values":[{"n":"chevron2"}]},"mark":{"type":"point","size":400,"filled":false,"stroke":"#131722","strokeWidth":1,"shape":"M-0.5,-0.25 L0,0.25 L0.5,-0.25"},"encoding":{"x":{"value":265},"y":{"value":-25}}},
{"data":{"values":[{"n":"bars icon"}]},"mark":{"type":"point","size":400,"filled":false,"stroke":"#131722","strokeWidth":1.2,"shape":"M-0.5,-0.3 V1.1 M-0.5,0.95 H-1.05 M-0.5,0.1 H-0.05 M0.55,-1.1 V0.6 M0.55,-0.9 H0.05 M0.55,-0.1 H1.05"},"encoding":{"x":{"value":158},"y":{"value":-25}}},
{"data":{"values":[{"n":"candle icon"}]},"mark":{"type":"point","size":400,"filled":false,"stroke":"#2962ff","strokeWidth":1.2,"shape":"M-0.85,-0.65 H-0.25 V0.65 H-0.85 Z M-0.55,-1.05 V-0.65 M-0.55,0.65 V1.05 M0.25,-0.35 H0.85 V0.35 H0.25 Z M0.55,-0.8 V-0.35 M0.55,0.35 V0.8"},"encoding":{"x":{"value":195},"y":{"value":-25}}},
{"data":{"values":[{"n":"area icon"}]},"mark":{"type":"point","size":400,"filled":true,"opacity":0.5,"fill":"#131722","strokeWidth":0,"shape":"M-1.2,0.8 L-1.2,0.4 L-0.5,-0.1 L0,0.1 L1.2,-0.8 L1.2,0.8 Z"},"encoding":{"x":{"value":232},"y":{"value":-25}}},
{"data":{"values":[{"n":"compare icon"}]},"mark":{"type":"point","size":400,"filled":false,"stroke":"#131722","strokeWidth":1.2,"shape":"M-1.15,0 A1.15,1.15 0 1,1 1.15,0 A1.15,1.15 0 1,1 -1.15,0 M-0.55,0 H0.55 M0,-0.55 V0.55"},"encoding":{"x":{"value":302},"y":{"value":-25}}},
{"data":{"values":[{"n":"indicators icon"}]},"mark":{"type":"point","size":400,"filled":false,"stroke":"#131722","strokeWidth":1.2,"shape":"M-1.15,0.2 L-0.5,-0.5 L0.2,-0.1 L1.15,-1.05 M-1.1,1.1 V0.55 H-0.55 V1.1 Z M-0.3,1.1 V0.1 H0.25 V1.1 Z M0.55,1.1 V-0.3 H1.1 V1.1 Z"},"encoding":{"x":{"value":431},"y":{"value":-25}}},
{"data":{"values":[{"t":"CFDs on Gold (US$ / OZ) \u00b7 1D \u00b7 TVC"}]},"mark":{"type":"text","font":"Open Sans","fontSize":19,"color":"#131722","align":"left","baseline":"middle"},"encoding":{"x":{"value":11},"y":{"value":23},"text":{"field":"t"}}},
{"data":{"values":[{"c":1}]},"mark":{"type":"rect","fill":"#fce0e8","cornerRadius":11},"encoding":{"x":{"value":338},"x2":{"value":387},"y":{"value":11},"y2":{"value":32}}},
{"data":{"values":[{"c":1}]},"mark":{"type":"rect","fill":"#daf1ee","cornerRadiusTopLeft":11,"cornerRadiusBottomLeft":11},"encoding":{"x":{"value":338},"x2":{"value":362},"y":{"value":11},"y2":{"value":32}}},
{"data":{"values":[{"n":"dot"}]},"mark":{"type":"point","shape":"circle","size":81,"filled":true,"fill":"#089981","opacity":1},"encoding":{"x":{"value":351},"y":{"value":21.5}}},
{"data":{"values":[{"t":"\u2248"}]},"mark":{"type":"text","font":"Lato","fontSize":20,"fontWeight":"bold","color":"#e91e63","align":"center","baseline":"middle"},"encoding":{"x":{"value":374},"y":{"value":21},"text":{"field":"t"}}},
{"data":{"values":[{"t":"O"}]},"mark":{"type":"text","font":"Lato","fontSize":15,"color":"#787b86","align":"left","baseline":"middle"},"encoding":{"x":{"value":408},"y":{"value":23},"text":{"field":"t"}}},
{"data":{"values":[{"t":"1819.99"}]},"mark":{"type":"text","font":"Lato","fontSize":15,"color":"#26a69a","align":"left","baseline":"middle"},"encoding":{"x":{"value":421},"y":{"value":23},"text":{"field":"t"}}},
{"data":{"values":[{"t":"H"}]},"mark":{"type":"text","font":"Lato","fontSize":15,"color":"#787b86","align":"left","baseline":"middle"},"encoding":{"x":{"value":484},"y":{"value":23},"text":{"field":"t"}}},
{"data":{"values":[{"t":"1823.29"}]},"mark":{"type":"text","font":"Lato","fontSize":15,"color":"#26a69a","align":"left","baseline":"middle"},"encoding":{"x":{"value":497},"y":{"value":23},"text":{"field":"t"}}},
{"data":{"values":[{"t":"L"}]},"mark":{"type":"text","font":"Lato","fontSize":15,"color":"#787b86","align":"left","baseline":"middle"},"encoding":{"x":{"value":561},"y":{"value":23},"text":{"field":"t"}}},
{"data":{"values":[{"t":"1815.53"}]},"mark":{"type":"text","font":"Lato","fontSize":15,"color":"#26a69a","align":"left","baseline":"middle"},"encoding":{"x":{"value":570},"y":{"value":23},"text":{"field":"t"}}},
{"data":{"values":[{"t":"C"}]},"mark":{"type":"text","font":"Lato","fontSize":15,"color":"#787b86","align":"left","baseline":"middle"},"encoding":{"x":{"value":635},"y":{"value":23},"text":{"field":"t"}}},
{"data":{"values":[{"t":"1821.71"}]},"mark":{"type":"text","font":"Lato","fontSize":15,"color":"#26a69a","align":"left","baseline":"middle"},"encoding":{"x":{"value":647},"y":{"value":23},"text":{"field":"t"}}},
{"data":{"values":[{"t":"+1.61 (+0.09%)"}]},"mark":{"type":"text","font":"Lato","fontSize":15.7,"color":"#26a69a","align":"left","baseline":"middle"},"encoding":{"x":{"value":710},"y":{"value":23},"text":{"field":"t"}}},
{"data":{"values":[{"t":"Vol"}]},"mark":{"type":"text","font":"Open Sans","fontSize":14,"color":"#50535e","align":"left","baseline":"middle"},"encoding":{"x":{"value":11},"y":{"value":52},"text":{"field":"t"}}},
{"data":{"values":[{"t":"0"}]},"mark":{"type":"text","font":"Open Sans","fontSize":14,"color":"#26a69a","align":"left","baseline":"middle"},"encoding":{"x":{"value":44},"y":{"value":52},"text":{"field":"t"}}},
{"data":{"values":[{"n":"logo ring"}]},"mark":{"type":"point","shape":"circle","size":1764,"filled":true,"fill":"#ffffff","stroke":"#e8e9ed","strokeWidth":2,"opacity":1},"encoding":{"x":{"value":29.3},"y":{"value":862}}},
{"data":{"values":[{"n":"logo"}]},"mark":{"type":"point","size":400,"filled":true,"fill":"#131722","opacity":1,"strokeWidth":0,"shape":"M-1.3,-0.57 H0.04 V0.8 H-0.63 V-0.13 H-1.3 Z M0.2,-0.3 A0.25,0.25 0 1,1 0.7,-0.3 A0.25,0.25 0 1,1 0.2,-0.3 Z M0.22,0.8 L0.87,-0.57 H1.37 L0.82,0.8 Z"},"encoding":{"x":{"value":29.3},"y":{"value":862}}},
{"data":{"values":[{"n":"settings"}]},"mark":{"type":"point","size":400,"filled":false,"stroke":"#131722","strokeWidth":1.2,"shape":"M-0.55,0 A0.55,0.55 0 1,1 0.55,0 A0.55,0.55 0 1,1 -0.55,0 M0,-0.55 V-0.85 M0,0.55 V0.85 M-0.55,0 H-0.85 M0.55,0 H0.85 M-0.4,-0.4 L-0.6,-0.6 M0.4,-0.4 L0.6,-0.6 M-0.4,0.4 L-0.6,0.6 M0.4,0.4 L0.6,0.6"},"encoding":{"x":{"value":1807.3},"y":{"value":907.3}}}
]}
